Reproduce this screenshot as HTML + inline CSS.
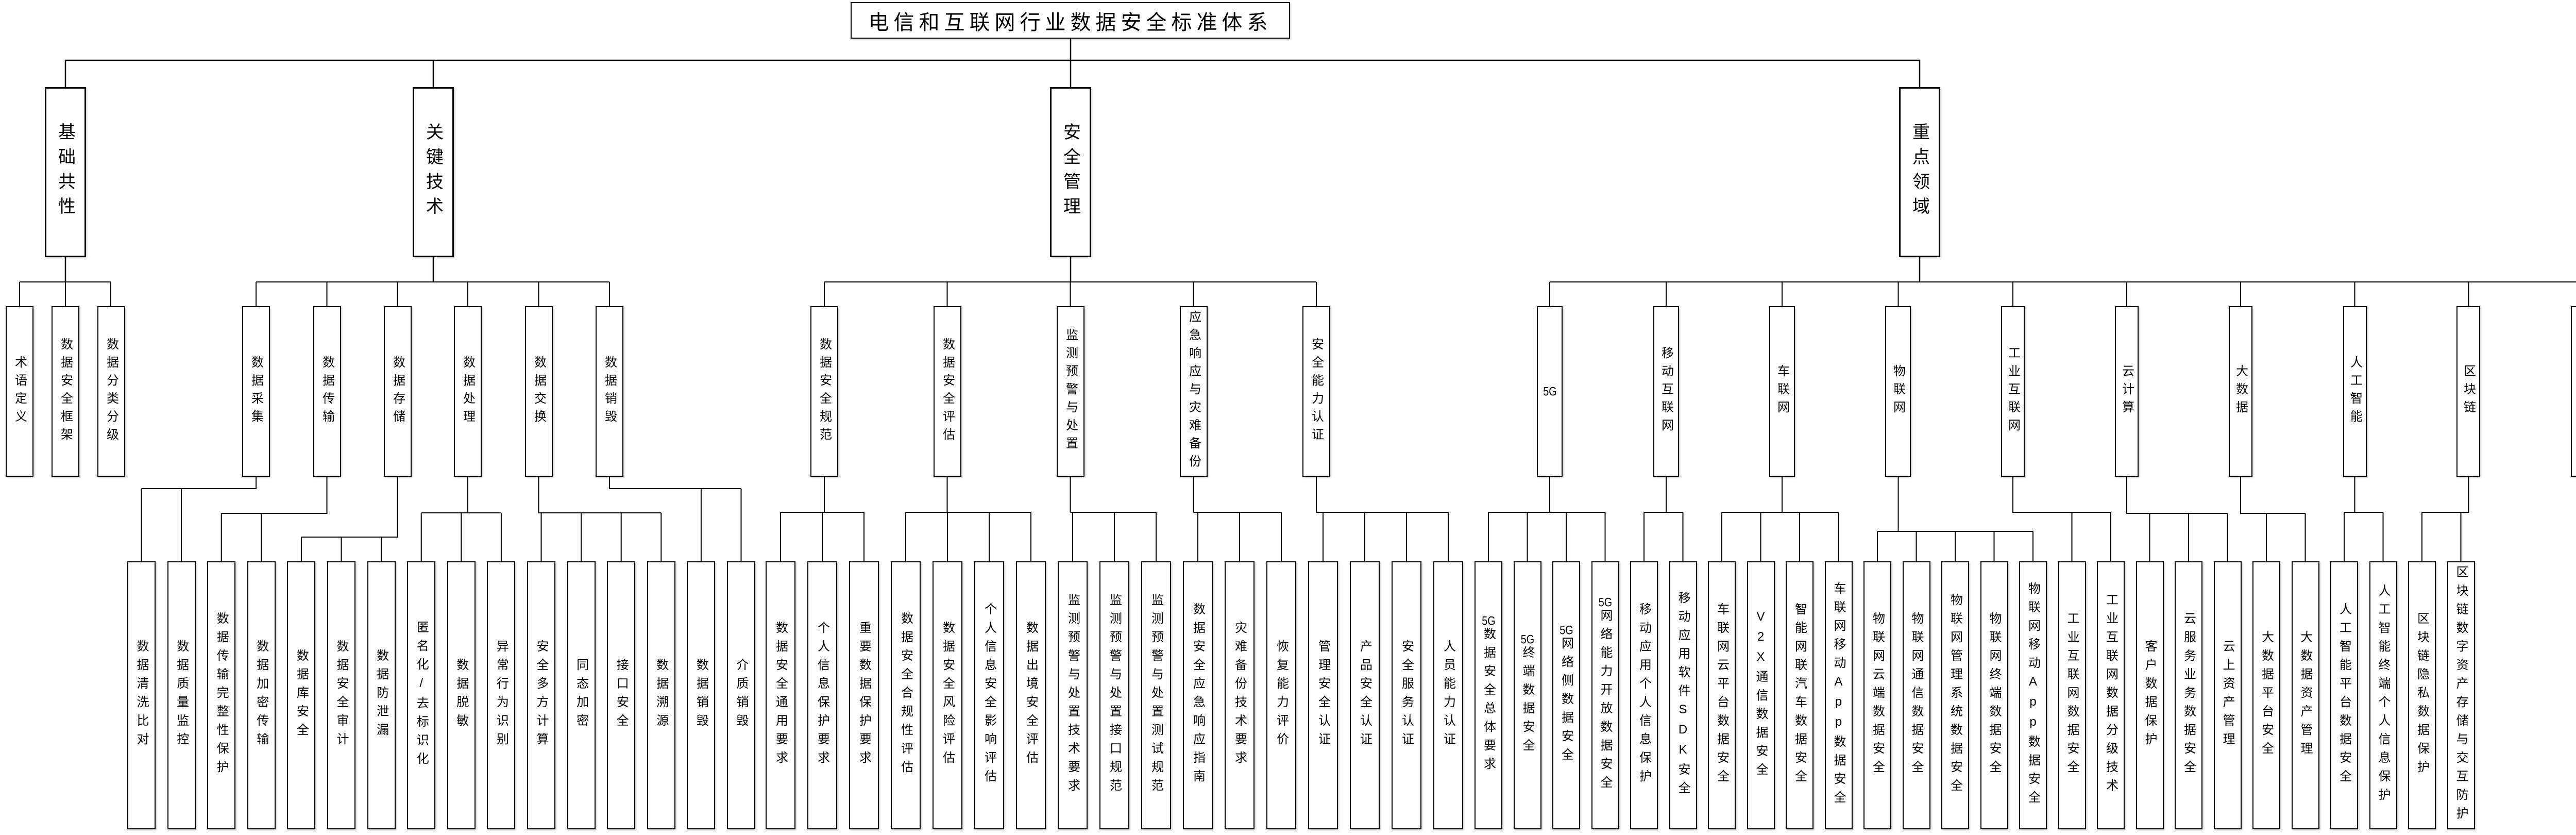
<!DOCTYPE html>
<html><head><meta charset="utf-8"><style>
html,body{margin:0;padding:0;background:#fff;}
#c{position:relative;width:5046px;height:1620px;overflow:hidden;background:#fff;font-family:"Liberation Sans","Noto Sans CJK SC",sans-serif;color:#000;}
svg{position:absolute;left:0;top:0;}
.b{position:absolute;box-sizing:border-box;border:2.5px solid #000;background:#fff;box-shadow:2px 2px 3px rgba(0,0,0,0.18);display:flex;align-items:center;justify-content:center;writing-mode:vertical-rl;text-orientation:upright;white-space:nowrap;}
.t{left:1651px;top:4px;width:853px;height:71px;writing-mode:horizontal-tb;font-size:40px;letter-spacing:9px;}
.l1{top:169px;height:330px;width:80px;font-size:34px;letter-spacing:14px;border-width:3px;}
.l2{top:594px;height:331px;font-size:24px;letter-spacing:11px;}
.l3{top:1089px;height:520px;font-size:24px;letter-spacing:12px;}
.k{width:55px}.m{width:58px}.d{width:54px}
.tcu{text-combine-upright:all;letter-spacing:0;}
</style></head><body><div id="c">
<svg width="5046" height="1620" viewBox="0 0 5046 1620" fill="none" stroke="#000" stroke-width="2">
<path stroke-width="2.5" d="M2078 75V117M127 117H3726M127 117V169M841 117V169M2078 117V169M3726 117V169"/>
<path stroke-width="2.5" d="M127 499V547M841 499V547M2078 499V547M3726 499V547"/>
<path d="M38 547H215M38 547V594M127 547V594M215 547V594"/>
<path d="M497 547H1183M497 547V594M634.5 547V594M771.5 547V594M908 547V594M1045.5 547V594M1183 547V594"/>
<path d="M1600 547H2555M1600 547V594M1838.5 547V594M2077.5 547V594M2316.5 547V594M2555 547V594"/>
<path d="M3008 547H5013M3008 547V594M3234 547V594M3459 547V594M3684.5 547V594M3907 547V594M4128 547V594M4349 547V594M4570.5 547V594M4791.5 547V594M5013 547V594"/>
<!-- key tech -->
<path d="M497 925V948H274.5M274.5 948V1089M352.1 948V1089"/>
<path d="M634.5 925V996H429.7M429.7 996V1089M507.3 996V1089"/>
<path d="M771.5 925V1042H584.9M584.9 1042V1089M662.5 1042V1089M740.1 1042V1089"/>
<path d="M908 925V995H817.7M817.7 995H972.9M817.7 995V1089M895.3 995V1089M972.9 995V1089"/>
<path d="M1045.5 925V995H1283.3M1050.5 995V1089M1128.1 995V1089M1205.7 995V1089M1283.3 995V1089"/>
<path d="M1183 925V948H1438.5M1360.9 948V1089M1438.5 948V1089"/>
<!-- mgmt -->
<path d="M1600 925V994M1515 994H1677M1515 994V1089M1596 994V1089M1677 994V1089"/>
<path d="M1838.5 925V994M1758 994H2001M1758 994V1089M1839 994V1089M1920 994V1089M2001 994V1089"/>
<path d="M2077.5 925V994M2077.5 994H2244M2082 994V1089M2163 994V1089M2244 994V1089"/>
<path d="M2316.5 925V994M2316.5 994H2487M2325 994V1089M2406 994V1089M2487 994V1089"/>
<path d="M2555 925V994M2555 994H2811M2568 994V1089M2649 994V1089M2730 994V1089M2811 994V1089"/>
<!-- domain -->
<path d="M3008 925V994M2889 994H3115.5M2889 994V1089M2964.5 994V1089M3040 994V1089M3115.5 994V1089"/>
<path d="M3234 925V994M3191 994H3266.5M3191 994V1089M3266.5 994V1089"/>
<path d="M3459 925V994M3342 994H3568.5M3342 994V1089M3417.5 994V1089M3493 994V1089M3568.5 994V1089"/>
<path d="M3684.5 925V1031M3644 1031H3946M3644 1031V1089M3719.5 1031V1089M3795 1031V1089M3870.5 1031V1089M3946 1031V1089"/>
<path d="M3907 925V994H4097M4021.5 994V1089M4097 994V1089"/>
<path d="M4128 925V996H4323.5M4172.5 996V1089M4248 996V1089M4323.5 996V1089"/>
<path d="M4349 925V996H4474.5M4399 996V1089M4474.5 996V1089"/>
<path d="M4570.5 925V994M4550 994H4625.5M4550 994V1089M4625.5 994V1089"/>
<path d="M4791.5 925V994H4701M4701 994V1089M4776.5 994V1089"/>
</svg>

<div class="b t">电信和互联网行业数据安全标准体系</div>

<div class="b l1" style="left:87px">基础共性</div>
<div class="b l1" style="left:801px">关键技术</div>
<div class="b l1" style="left:2038px">安全管理</div>
<div class="b l1" style="left:3686px">重点领域</div>

<div class="b l2" style="left:11px;width:54px">术语定义</div>
<div class="b l2" style="left:100px;width:54px">数据安全框架</div>
<div class="b l2" style="left:189px;width:54px">数据分类分级</div>

<div class="b l2" style="left:470px;width:54px">数据采集</div>
<div class="b l2" style="left:608px;width:54px">数据传输</div>
<div class="b l2" style="left:745px;width:54px">数据存储</div>
<div class="b l2" style="left:881px;width:54px">数据处理</div>
<div class="b l2" style="left:1019px;width:54px">数据交换</div>
<div class="b l2" style="left:1156px;width:54px">数据销毁</div>

<div class="b l2" style="left:1573px;width:54px">数据安全规范</div>
<div class="b l2" style="left:1812px;width:54px">数据安全评估</div>
<div class="b l2" style="left:2051px;width:54px">监测预警与处置</div>
<div class="b l2" style="left:2290px;width:54px">应急响应与灾难备份</div>
<div class="b l2" style="left:2528px;width:54px">安全能力认证</div>

<div class="b l2" style="left:2983px;width:50px"><span class="tcu">5G</span></div>
<div class="b l2" style="left:3209px;width:50px">移动互联网</div>
<div class="b l2" style="left:3434px;width:50px">车联网</div>
<div class="b l2" style="left:3659px;width:50px">物联网</div>
<div class="b l2" style="left:3884px;width:46px">工业互联网</div>
<div class="b l2" style="left:4105px;width:46px">云计算</div>
<div class="b l2" style="left:4326px;width:46px">大数据</div>
<div class="b l2" style="left:4548px;width:46px">人工智能</div>
<div class="b l2" style="left:4768px;width:46px">区块链</div>
<div class="b l2" style="left:4990px;width:46px">……</div>

<div class="b l3 k" style="left:247px">数据清洗比对</div>
<div class="b l3 k" style="left:324.6px">数据质量监控</div>
<div class="b l3 k" style="left:402.2px">数据传输完整性保护</div>
<div class="b l3 k" style="left:479.8px">数据加密传输</div>
<div class="b l3 k" style="left:557.4px">数据库安全</div>
<div class="b l3 k" style="left:635px">数据安全审计</div>
<div class="b l3 k" style="left:712.6px">数据防泄漏</div>
<div class="b l3 k" style="left:790.2px">匿名化/去标识化</div>
<div class="b l3 k" style="left:867.8px">数据脱敏</div>
<div class="b l3 k" style="left:945.4px">异常行为识别</div>
<div class="b l3 k" style="left:1023px">安全多方计算</div>
<div class="b l3 k" style="left:1100.6px">同态加密</div>
<div class="b l3 k" style="left:1178.2px">接口安全</div>
<div class="b l3 k" style="left:1255.8px">数据溯源</div>
<div class="b l3 k" style="left:1333.4px">数据销毁</div>
<div class="b l3 k" style="left:1411px">介质销毁</div>

<div class="b l3 m" style="left:1486px">数据安全通用要求</div>
<div class="b l3 m" style="left:1567px">个人信息保护要求</div>
<div class="b l3 m" style="left:1648px">重要数据保护要求</div>
<div class="b l3 m" style="left:1729px">数据安全合规性评估</div>
<div class="b l3 m" style="left:1810px">数据安全风险评估</div>
<div class="b l3 m" style="left:1891px">个人信息安全影响评估</div>
<div class="b l3 m" style="left:1972px">数据出境安全评估</div>
<div class="b l3 m" style="left:2053px">监测预警与处置技术要求</div>
<div class="b l3 m" style="left:2134px">监测预警与处置接口规范</div>
<div class="b l3 m" style="left:2215px">监测预警与处置测试规范</div>
<div class="b l3 m" style="left:2296px">数据安全应急响应指南</div>
<div class="b l3 m" style="left:2377px">灾难备份技术要求</div>
<div class="b l3 m" style="left:2458px">恢复能力评价</div>
<div class="b l3 m" style="left:2539px">管理安全认证</div>
<div class="b l3 m" style="left:2620px">产品安全认证</div>
<div class="b l3 m" style="left:2701px">安全服务认证</div>
<div class="b l3 m" style="left:2782px">人员能力认证</div>

<div class="b l3 d" style="left:2862px"><span class="tcu">5G</span>数据安全总体要求</div>
<div class="b l3 d" style="left:2937.5px"><span class="tcu">5G</span>终端数据安全</div>
<div class="b l3 d" style="left:3013px"><span class="tcu">5G</span>网络侧数据安全</div>
<div class="b l3 d" style="left:3088.5px"><span class="tcu">5G</span>网络能力开放数据安全</div>
<div class="b l3 d" style="left:3164px">移动应用个人信息保护</div>
<div class="b l3 d" style="left:3239.5px">移动应用软件SDK安全</div>
<div class="b l3 d" style="left:3315px">车联网云平台数据安全</div>
<div class="b l3 d" style="left:3390.5px">V2X通信数据安全</div>
<div class="b l3 d" style="left:3466px">智能网联汽车数据安全</div>
<div class="b l3 d" style="left:3541.5px">车联网移动App数据安全</div>
<div class="b l3 d" style="left:3617px">物联网云端数据安全</div>
<div class="b l3 d" style="left:3692.5px">物联网通信数据安全</div>
<div class="b l3 d" style="left:3768px">物联网管理系统数据安全</div>
<div class="b l3 d" style="left:3843.5px">物联网终端数据安全</div>
<div class="b l3 d" style="left:3919px">物联网移动App数据安全</div>
<div class="b l3 d" style="left:3994.5px">工业互联网数据安全</div>
<div class="b l3 d" style="left:4070px">工业互联网数据分级技术</div>
<div class="b l3 d" style="left:4145.5px">客户数据保护</div>
<div class="b l3 d" style="left:4221px">云服务业务数据安全</div>
<div class="b l3 d" style="left:4296.5px">云上资产管理</div>
<div class="b l3 d" style="left:4372px">大数据平台安全</div>
<div class="b l3 d" style="left:4447.5px">大数据资产管理</div>
<div class="b l3 d" style="left:4523px">人工智能平台数据安全</div>
<div class="b l3 d" style="left:4598.5px">人工智能终端个人信息保护</div>
<div class="b l3 d" style="left:4674px">区块链隐私数据保护</div>
<div class="b l3 d" style="left:4749.5px">区块链数字资产存储与交互防护</div>
</div></body></html>
